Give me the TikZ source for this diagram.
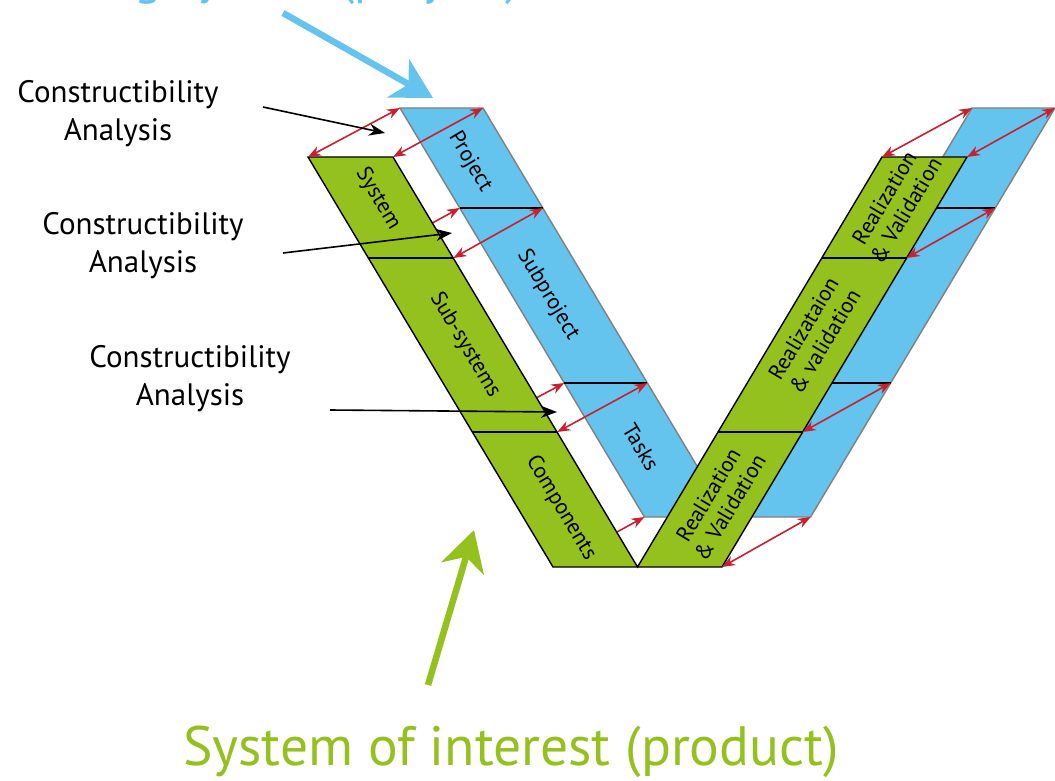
\documentclass[tikz,border=0pt]{standalone}
\usepackage{fontspec}
\setmainfont{PT Sans}
\usetikzlibrary{positioning,calc,arrows.meta}
\definecolor{vblue}{RGB}{100,196,237}
\definecolor{vgreen}{RGB}{149,193,31}
\definecolor{vred}{RGB}{200,32,48}
\definecolor{vgray}{RGB}{128,128,128}

\begin{document}
\begin{tikzpicture}[
            x=1pt, y=-1pt,
            band/.style={font=\fontsize{22}{25}\selectfont, align=center, inner sep=0pt},
            downband/.style={band, rotate=-59.13},
            upband/.style={band, rotate=59.13},
            link/.style={<->, >={Stealth[length=13pt,width=10pt]}, draw=vred, line width=1.6pt},
            note/.style={font=\fontsize{31}{38}\selectfont, align=center, inner sep=0pt},
            pointer/.style={-{Stealth[length=16pt,width=12pt]}, line width=1.6pt},
            bigarrow/.style={-{Stealth[length=40pt,width=44pt,inset=12pt]}, line width=6.5pt},
            title/.style={inner sep=0pt}
        ]
            \fill[white] (0,0) rectangle (1055,781);
            \useasboundingbox (0,0) rectangle (1055,781);

            % corners of the product V (green)
            \coordinate (sL0) at (308,157);   \coordinate (sR0) at (393,157);
            \coordinate (sL1) at (368.4,258); \coordinate (sR1) at (453.4,258);
            \coordinate (sL2) at (472.3,432); \coordinate (sR2) at (557.3,432);
            \coordinate (sL3) at (553,567);   \coordinate (sR3) at (637.5,567);
            \coordinate (rL0) at (882,157);   \coordinate (rR0) at (967,157);
            \coordinate (rL1) at (821.6,258); \coordinate (rR1) at (906.6,258);
            \coordinate (rL2) at (717.7,432); \coordinate (rR2) at (802.7,432);
            \coordinate (rR3) at (722,567);

            % corners of the project V (blue)
            \coordinate (pL0) at (400,108);   \coordinate (pR0) at (483,108);
            \coordinate (pL1) at (459.8,208); \coordinate (pR1) at (542.8,208);
            \coordinate (pL2) at (564.3,383); \coordinate (pR2) at (647.3,383);
            \coordinate (pL3) at (644.4,517); \coordinate (pR3) at (727.5,517);
            \coordinate (qL0) at (972,108);   \coordinate (qR0) at (1055,108);
            \coordinate (qL1) at (912.2,208); \coordinate (qR1) at (995.2,208);
            \coordinate (qL2) at (807.7,383); \coordinate (qR2) at (890.7,383);
            \coordinate (qR3) at (810.6,517);

            % project V
            \filldraw[fill=vblue, draw=vgray, line width=1.4pt]
                (pL0) -- (pR0) -- (pR3) -- (qL0) -- (qR0) -- (qR3) -- (pL3) -- cycle;
            \draw[line width=1.4pt] (pL1) -- (pR1);
            \draw[line width=1.4pt] (pL2) -- (pR2);
            \draw[line width=1.4pt] (qL1) -- (qR1);
            \draw[line width=1.4pt] (qL2) -- (qR2);

            % links running under the green band
            \draw[link] (sL1) -- (pL1);
            \draw[link] (sL2) -- (pL2);
            \draw[link] (sL3) -- (pL3);

            % product V
            \filldraw[fill=vgreen, draw=black, line width=1.4pt]
                (sL0) -- (sR0) -- (sR3) -- (rL0) -- (rR0) -- (rR3) -- (sL3) -- cycle;
            \draw[line width=1.4pt] (sL1) -- (sR1);
            \draw[line width=1.4pt] (sL2) -- (sR2);
            \draw[line width=1.4pt] (rL1) -- (rR1);
            \draw[line width=1.4pt] (rL2) -- (rR2);

            % links between the two Vs
            \draw[link] (sL0) -- (pL0);
            \draw[link] (sR0) -- (pR0);
            \draw[link] (sR1) -- (pR1);
            \draw[link] (sR2) -- (pR2);
            \draw[link] (rL0) -- (qL0);
            \draw[link] (rR0) -- (qR0);
            \draw[link] (rR1) -- (qR1);
            \draw[link] (rR2) -- (qR2);
            \draw[link] (rR3) -- (qR3);

            % Add band labels
            \node[downband] (project) at (470,162) {Project};
            \node[downband] (subproject) at (548,295) {Subproject};
            \node[downband] (tasks) at (641,447) {Tasks};
            \node[downband] (system) at (378,199) {System};
            \node[downband] (subsystems) at (465,345) {Sub-systems};
            \node[downband] (components) at (561,508) {Components};
            \node[upband] (rvtop) at (895,204) {Realization\\\& Validation};
            \node[upband] (rvmid) at (814,335) {Realizataion\\\& validation};
            \node[upband] (rvlow) at (719,501) {Realization\\\& Validation};

            % Add constructibility notes
            \node[note, anchor=base] (ca1) at (118,141) {Constructibility\\Analysis};
            \node[note, anchor=base] (ca2) at (143,272) {Constructibility\\Analysis};
            \node[note, anchor=base] (ca3) at (190,405) {Constructibility\\Analysis};
            \coordinate (ca1s) at (263,107); \coordinate (ca1e) at (385,133);
            \coordinate (ca2s) at (283,253); \coordinate (ca2e) at (452,233);
            \coordinate (ca3s) at (330,410); \coordinate (ca3e) at (557,412);
            \draw[pointer] (ca1s) -- (ca1e);
            \draw[pointer] (ca2s) -- (ca2e);
            \draw[pointer] (ca3s) -- (ca3e);

            % Add titles
            \node[title, font=\fontsize{51}{60}\selectfont, text=vblue, anchor=base west] (enabling) at (-30,-6.5) {Enabling system (project)};
            \node[title, font=\fontsize{55.5}{64}\selectfont, text=vgreen, anchor=base] (interest) at (511,765) {System of interest (product)};
            \coordinate (ens) at (283,13);  \coordinate (ene) at (433,98);
            \coordinate (sos) at (428,685); \coordinate (soe) at (474,530);
            \draw[bigarrow, vblue] (ens) -- (ene);
            \draw[bigarrow, vgreen] (sos) -- (soe);
        \end{tikzpicture}
\end{document}
